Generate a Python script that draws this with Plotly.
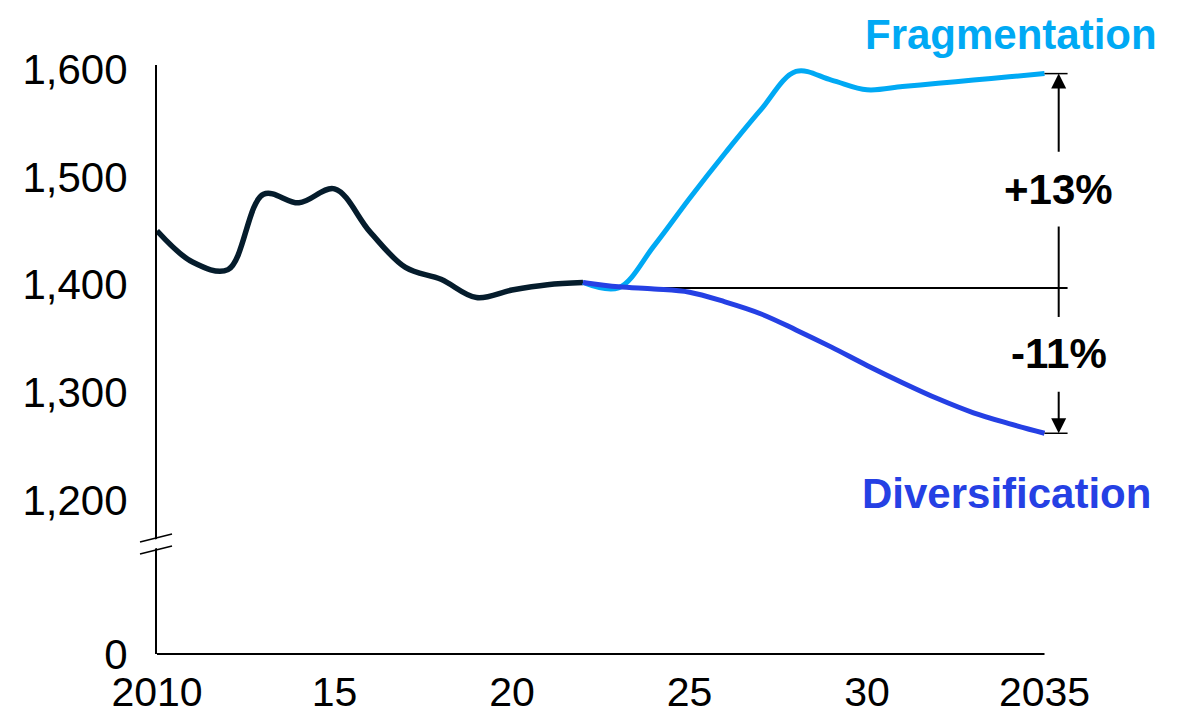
import plotly.graph_objects as go

# ---------------- data ----------------
YEARS_HIST = [2010, 2011, 2012, 2013, 2014, 2015, 2016, 2017, 2018, 2019, 2020, 2021, 2022]
HIST = [1450, 1421, 1414, 1484, 1476, 1489, 1449, 1416, 1405, 1388, 1395, 1400, 1402]

YEARS_FC = [2022, 2023, 2024, 2025, 2026, 2027, 2028, 2029, 2030, 2031, 2032, 2033, 2034, 2035]
FRAGMENTATION = [1402, 1397, 1436, 1480, 1522, 1562, 1598, 1590, 1581, 1584, 1587, 1590, 1593, 1596]
DIVERSIFICATION = [1402, 1398, 1396, 1393, 1384, 1373, 1358, 1342, 1325, 1309, 1294, 1281, 1271, 1262]

BASE_YEAR = 2023
BASE_VALUE = 1397
PCT_UP = "+13%"
PCT_DOWN = "-11%"

X_TICKS = [2010, 2015, 2020, 2025, 2030, 2035]
X_TICKTEXT = ["2010", "15", "20", "25", "30", "2035"]
Y_TICKS = [1200, 1300, 1400, 1500, 1600]
Y_TICKTEXT = ["1,200", "1,300", "1,400", "1,500", "1,600"]
Y_ZERO_LABEL = "0"

# ---------------- style / layout ----------------
C_HIST = "#051C2C"
C_FRAG = "#00A9F4"
C_DIV = "#2540E4"
FONT = "Liberation Sans, Arial, sans-serif"
FS = 42
FS_X = 41

W, H = 1187, 716
ML, MR, MT, MB = 157, 107, 65, 62
X_RANGE = [2010, 2036]
Y_RANGE = [1057, 1604]

def px_x(p):
    return (p - ML) / (W - ML - MR)

def px_y(p):
    return (H - MB - p) / (H - MT - MB)

ARROW_X = 2035.4
TICK_X1 = 2035.65
LABEL_UP_Y = 1488
LABEL_DN_Y = 1336
GAP = 34

fig = go.Figure()
fig.add_trace(go.Scatter(x=YEARS_HIST, y=HIST, mode="lines",
                         line=dict(color=C_HIST, width=5.5, shape="spline", smoothing=1),
                         hoverinfo="skip", showlegend=False))
fig.add_trace(go.Scatter(x=YEARS_FC, y=FRAGMENTATION, mode="lines",
                         line=dict(color=C_FRAG, width=5, shape="spline", smoothing=1),
                         hoverinfo="skip", showlegend=False))
fig.add_trace(go.Scatter(x=YEARS_FC, y=DIVERSIFICATION, mode="lines",
                         line=dict(color=C_DIV, width=5, shape="spline", smoothing=1),
                         hoverinfo="skip", showlegend=False))

shapes = []
# x axis line (ends at last year)
shapes.append(dict(type="line", xref="paper", yref="paper",
                   x0=0, x1=(YEARS_FC[-1] - X_RANGE[0]) / (X_RANGE[1] - X_RANGE[0]),
                   y0=0, y1=0, line=dict(color="black", width=2)))
# axis break: white gap then two slanted marks
shapes.append(dict(type="line", xref="paper", yref="paper",
                   x0=px_x(147), x1=px_x(167), y0=px_y(546), y1=px_y(541),
                   line=dict(color="white", width=9)))
for dy in (0, 12):
    shapes.append(dict(type="line", xref="paper", yref="paper",
                       x0=px_x(140), x1=px_x(172), y0=px_y(542 + dy), y1=px_y(534 + dy),
                       line=dict(color="black", width=1.6)))
# baseline reference line
shapes.append(dict(type="line", xref="x", yref="y", x0=BASE_YEAR, x1=TICK_X1,
                   y0=BASE_VALUE, y1=BASE_VALUE, line=dict(color="black", width=2), layer="below"))
# end ticks
for v in (FRAGMENTATION[-1], DIVERSIFICATION[-1]):
    shapes.append(dict(type="line", xref="x", yref="y", x0=YEARS_FC[-1], x1=TICK_X1,
                       y0=v, y1=v, line=dict(color="black", width=1.5)))
# middle segment of the vertical dimension line
shapes.append(dict(type="line", xref="x", yref="y", x0=ARROW_X, x1=ARROW_X,
                   y0=LABEL_UP_Y - GAP, y1=LABEL_DN_Y + GAP, line=dict(color="black", width=2)))

annotations = []
# arrows
annotations.append(dict(x=ARROW_X, y=FRAGMENTATION[-1], ax=ARROW_X, ay=LABEL_UP_Y + GAP,
                        xref="x", yref="y", axref="x", ayref="y", text="", showarrow=True,
                        arrowhead=2, arrowsize=1.5, arrowwidth=2, arrowcolor="black"))
annotations.append(dict(x=ARROW_X, y=DIVERSIFICATION[-1], ax=ARROW_X, ay=LABEL_DN_Y - GAP,
                        xref="x", yref="y", axref="x", ayref="y", text="", showarrow=True,
                        arrowhead=2, arrowsize=1.5, arrowwidth=2, arrowcolor="black"))
annotations.append(dict(x=ARROW_X, y=LABEL_UP_Y, xref="x", yref="y", text="<b>%s</b>" % PCT_UP,
                        showarrow=False, xanchor="center", yanchor="middle",
                        font=dict(family=FONT, size=FS, color="black")))
annotations.append(dict(x=ARROW_X, y=LABEL_DN_Y, xref="x", yref="y", text="<b>%s</b>" % PCT_DOWN,
                        showarrow=False, xanchor="center", yanchor="middle",
                        font=dict(family=FONT, size=FS, color="black")))
# series labels
annotations.append(dict(x=px_x(1011), y=px_y(35), xref="paper", yref="paper",
                        xanchor="center", yanchor="middle",
                        text="<b>Fragmentation</b>", showarrow=False,
                        font=dict(family=FONT, size=FS, color=C_FRAG)))
annotations.append(dict(x=px_x(1006), y=px_y(493), xref="paper", yref="paper",
                        xanchor="center", yanchor="middle",
                        text="<b>Diversification</b>", showarrow=False,
                        font=dict(family=FONT, size=FS, color=C_DIV)))

fig.update_layout(
    width=W, height=H,
    margin=dict(l=ML, r=MR, t=MT, b=MB, pad=0, autoexpand=False),
    paper_bgcolor="white", plot_bgcolor="white",
    font=dict(family=FONT, size=FS, color="black"),
    shapes=shapes, annotations=annotations,
    xaxis=dict(range=X_RANGE, tickvals=X_TICKS, ticktext=X_TICKTEXT, showgrid=False,
               zeroline=False, showline=False, ticks="", ticklabelstandoff=10,
               automargin=False,
               tickfont=dict(family=FONT, size=FS_X, color="black"), fixedrange=True),
    yaxis=dict(range=Y_RANGE, tickvals=[Y_RANGE[0]] + Y_TICKS,
               ticktext=[Y_ZERO_LABEL] + Y_TICKTEXT, showgrid=False, zeroline=False,
               showline=True, linecolor="black", linewidth=2, ticks="", ticklabelstandoff=19,
               automargin=False,
               tickfont=dict(family=FONT, size=FS, color="black"), fixedrange=True),
)

fig.write_html("out.html", config={"displayModeBar": False},
               post_script="document.body.style.margin='0px';")
